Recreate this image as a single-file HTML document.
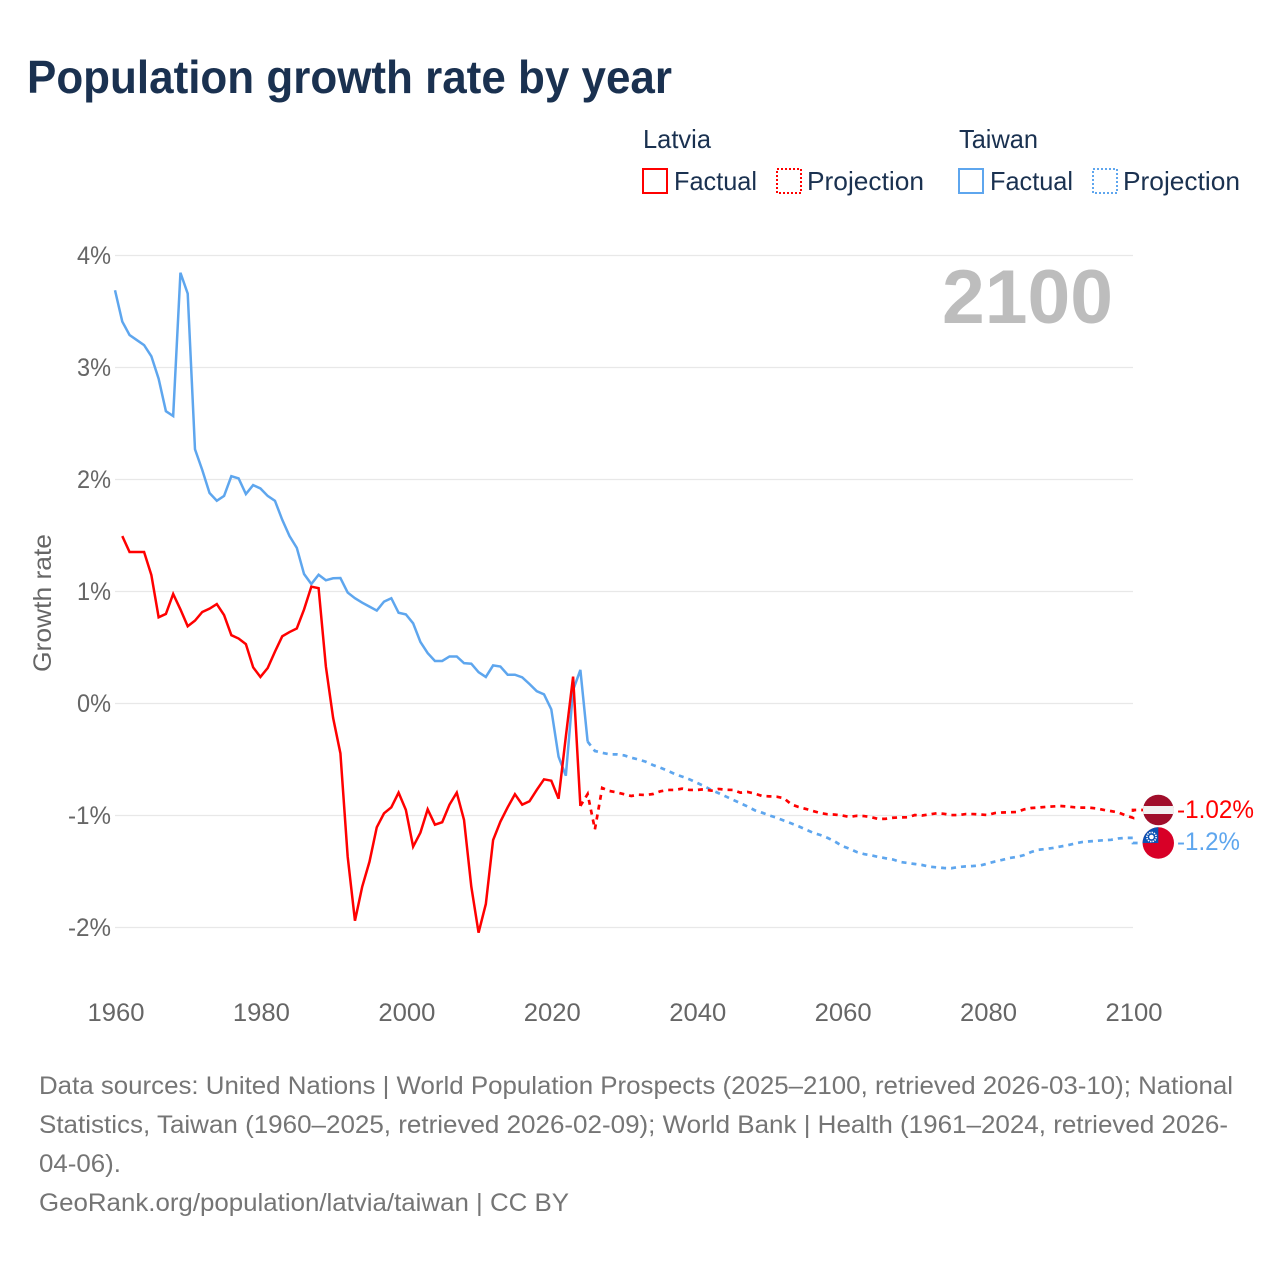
<!DOCTYPE html>
<html lang="en">
<head>
<meta charset="utf-8">
<title>Population growth rate by year</title>
<style>
html,body{margin:0;padding:0;background:#fff;width:1280px;height:1280px;overflow:hidden}
svg{display:block;font-family:"Liberation Sans",sans-serif}
</style>
</head>
<body>
<svg id="chart" xmlns="http://www.w3.org/2000/svg" width="1280" height="1280" viewBox="0 0 1280 1280">
  <rect width="1280" height="1280" fill="#ffffff"/>
  <text x="27" y="93" font-size="46" font-weight="700" fill="#1a3150" textLength="645" lengthAdjust="spacingAndGlyphs">Population growth rate by year</text>

  <g font-size="26" fill="#1a3150">
    <text x="643" y="148" textLength="68" lengthAdjust="spacingAndGlyphs">Latvia</text>
    <text x="959" y="148" textLength="79" lengthAdjust="spacingAndGlyphs">Taiwan</text>
    <rect x="643" y="169" width="24" height="24" fill="none" stroke="#ff0000" stroke-width="2"/>
    <text x="674" y="190" textLength="83" lengthAdjust="spacingAndGlyphs">Factual</text>
    <rect x="777" y="169" width="24" height="24" fill="none" stroke="#ff0000" stroke-width="2" stroke-dasharray="2 2"/>
    <text x="807" y="190" textLength="117" lengthAdjust="spacingAndGlyphs">Projection</text>
    <rect x="959" y="169" width="24" height="24" fill="none" stroke="#5ea6ee" stroke-width="2"/>
    <text x="990" y="190" textLength="83" lengthAdjust="spacingAndGlyphs">Factual</text>
    <rect x="1093" y="169" width="24" height="24" fill="none" stroke="#5ea6ee" stroke-width="2" stroke-dasharray="2 2"/>
    <text x="1123" y="190" textLength="117" lengthAdjust="spacingAndGlyphs">Projection</text>
  </g>

  <g id="grid"></g>
  <g id="y-ticks"></g>
  <g id="x-ticks"></g>
  <text transform="translate(51 603) rotate(-90)" text-anchor="middle" font-size="25" fill="#666666" textLength="138" lengthAdjust="spacingAndGlyphs">Growth rate</text>
  <text x="942" y="323" font-size="76" font-weight="700" fill="#bdbdbd" textLength="171" lengthAdjust="spacingAndGlyphs">2100</text>
  <g id="series"></g>

  <defs>
    <clipPath id="clip-latvia"><circle id="clip-latvia-c" cx="1158.3" cy="810" r="15.3"/></clipPath>
    <clipPath id="clip-taiwan"><circle id="clip-taiwan-c" cx="1158.3" cy="843" r="15.7"/></clipPath>
  </defs>
  <g id="flag-latvia" clip-path="url(#clip-latvia)">
    <rect x="1142" y="793" width="33" height="34" fill="#a00e2b"/>
    <rect x="1142" y="806" width="33" height="8" fill="#f1f1f1"/>
  </g>
  <g id="flag-taiwan" clip-path="url(#clip-taiwan)">
    <rect x="1142" y="826" width="33" height="34" fill="#d80027"/>
    <rect x="1142" y="826" width="16.3" height="17" fill="#0b52b4"/>
    <circle cx="1151.5" cy="837" r="4.6" fill="none" stroke="#ffffff" stroke-width="1.6" stroke-dasharray="1.4 1"/>
    <circle cx="1151.5" cy="837" r="2.3" fill="#ffffff"/>
  </g>
  <g id="end-labels"></g>

  <g font-size="25" fill="#757575">
    <text x="39" y="1094" textLength="1194" lengthAdjust="spacingAndGlyphs">Data sources: United Nations | World Population Prospects (2025–2100, retrieved 2026-03-10); National</text>
    <text x="39" y="1133" textLength="1189" lengthAdjust="spacingAndGlyphs">Statistics, Taiwan (1960–2025, retrieved 2026-02-09); World Bank | Health (1961–2024, retrieved 2026-</text>
    <text x="39" y="1172" textLength="82" lengthAdjust="spacingAndGlyphs">04-06).</text>
    <text x="39" y="1211" textLength="530" lengthAdjust="spacingAndGlyphs">GeoRank.org/population/latvia/taiwan | CC BY</text>
  </g>
</svg>
<script>
var yTickValues = [4, 3, 2, 1, 0, -1, -2];
var xTickYears = [1960, 1980, 2000, 2020, 2040, 2060, 2080, 2100];

var latviaFactualStart = 1961;
var latviaFactual = [1.495,1.353,1.353,1.353,1.147,0.77,0.80,0.978,0.84,0.69,0.74,0.817,0.847,0.888,0.79,0.61,0.58,0.53,0.323,0.237,0.317,0.463,0.60,0.638,0.67,0.84,1.043,1.03,0.33,-0.13,-0.445,-1.368,-1.94,-1.635,-1.412,-1.105,-0.98,-0.927,-0.796,-0.95,-1.278,-1.153,-0.945,-1.082,-1.06,-0.903,-0.796,-1.04,-1.635,-2.046,-1.79,-1.219,-1.055,-0.927,-0.81,-0.903,-0.873,-0.772,-0.677,-0.689,-0.85,-0.296,0.24,-0.915];
var latviaProjectionStart = 2024;
var latviaProjection = [-0.915,-0.808,-1.123,-0.754,-0.781,-0.793,-0.81,-0.826,-0.814,-0.817,-0.808,-0.784,-0.772,-0.772,-0.76,-0.772,-0.772,-0.766,-0.778,-0.763,-0.77,-0.772,-0.796,-0.79,-0.805,-0.826,-0.829,-0.832,-0.846,-0.90,-0.924,-0.941,-0.96,-0.978,-0.989,-0.992,-1.0,-1.0125,-1.003,-1.005,-1.015,-1.031,-1.029,-1.02,-1.017,-1.016,-0.996,-1.0,-0.99,-0.98,-0.985,-0.996,-0.996,-0.987,-0.987,-0.991,-0.996,-0.978,-0.973,-0.971,-0.969,-0.946,-0.933,-0.929,-0.923,-0.919,-0.915,-0.92,-0.927,-0.93,-0.93,-0.937,-0.95,-0.961,-0.973,-1.0,-1.02];

var taiwanFactualStart = 1960;
var taiwanFactual = [3.69,3.41,3.29,3.245,3.20,3.10,2.90,2.61,2.567,3.846,3.66,2.27,2.085,1.88,1.81,1.853,2.03,2.01,1.87,1.95,1.92,1.853,1.81,1.64,1.495,1.39,1.156,1.067,1.15,1.10,1.118,1.12,0.99,0.94,0.90,0.865,0.83,0.91,0.94,0.81,0.796,0.716,0.55,0.45,0.38,0.38,0.42,0.42,0.36,0.355,0.28,0.237,0.34,0.33,0.257,0.257,0.234,0.174,0.11,0.082,-0.052,-0.475,-0.645,0.12,0.30,-0.34];
var taiwanProjectionStart = 2025;
var taiwanProjection = [-0.34,-0.424,-0.44,-0.454,-0.454,-0.463,-0.484,-0.50,-0.52,-0.55,-0.573,-0.60,-0.63,-0.653,-0.677,-0.707,-0.737,-0.772,-0.80,-0.83,-0.86,-0.89,-0.92,-0.954,-0.975,-1.0,-1.02,-1.046,-1.07,-1.096,-1.125,-1.154,-1.174,-1.20,-1.232,-1.272,-1.296,-1.326,-1.344,-1.356,-1.37,-1.382,-1.393,-1.415,-1.424,-1.433,-1.442,-1.457,-1.463,-1.469,-1.471,-1.46,-1.454,-1.451,-1.446,-1.429,-1.411,-1.397,-1.38,-1.37,-1.354,-1.326,-1.306,-1.299,-1.29,-1.277,-1.266,-1.25,-1.237,-1.231,-1.226,-1.221,-1.217,-1.205,-1.20,-1.2];

var SVGNS = "http://www.w3.org/2000/svg";
var plotLeft = 115, plotRight = 1133, yearMin = 1960, yearMax = 2100;
var zeroY = 703.5, unitY = 112;
function xScale(year) { return plotLeft + (year - yearMin) * (plotRight - plotLeft) / (yearMax - yearMin); }
function yScale(value) { return zeroY - value * unitY; }
function make(tag, attrs, parent, text) {
  var el = document.createElementNS(SVGNS, tag);
  for (var k in attrs) el.setAttribute(k, attrs[k]);
  if (text !== undefined) el.textContent = text;
  parent.appendChild(el);
  return el;
}
function seriesPoints(start, values) {
  return values.map(function (v, i) { return [xScale(start + i), yScale(v)]; });
}
function toPath(points) {
  return points.map(function (p, i) { return (i ? "L" : "M") + p[0].toFixed(2) + " " + p[1].toFixed(2); }).join(" ");
}
var gridGroup = document.getElementById("grid");
var yTickGroup = document.getElementById("y-ticks");
var xTickGroup = document.getElementById("x-ticks");
var seriesGroup = document.getElementById("series");
var endGroup = document.getElementById("end-labels");

yTickValues.forEach(function (v) {
  var line = make("line", {x1: plotLeft, x2: plotRight, y1: yScale(v), y2: yScale(v), stroke: "#e8e8e8", "stroke-width": 1.3}, gridGroup);
  
  
  var label = make("text", {x: 111, y: yScale(v) + 8.5, "text-anchor": "end", "font-size": 25, fill: "#666666", textLength: v < 0 ? 43 : 34, lengthAdjust: "spacingAndGlyphs"}, yTickGroup, v + "%");
  
  
});
xTickYears.forEach(function (year) {
  var label = make("text", {x: xScale(year) + 1, y: 1021, "text-anchor": "middle", "font-size": 25, fill: "#666666", textLength: 57, lengthAdjust: "spacingAndGlyphs"}, xTickGroup, String(year));
  
  
});

var latviaLast = latviaProjection[latviaProjection.length - 1];
var taiwanLast = taiwanProjection[taiwanProjection.length - 1];
var endMid = (yScale(latviaLast) + yScale(taiwanLast)) / 2 - 1.3;
var latviaEndY = endMid - 16.5;
var taiwanEndY = endMid + 16.5;
var flagEdge = 1143;

function drawLine(points, color, dashed) {
  var attrs = {d: toPath(points), fill: "none", stroke: color, "stroke-width": dashed ? 2.7 : 2.5, "stroke-linejoin": "miter"};
  if (dashed) attrs["stroke-dasharray"] = "5 5";
  return make("path", attrs, seriesGroup);
}
var taiwanFactualLine = drawLine(seriesPoints(taiwanFactualStart, taiwanFactual), "#5ea6ee", false);


var taiwanProjPts = seriesPoints(taiwanProjectionStart, taiwanProjection);
taiwanProjPts.push([plotRight, taiwanEndY], [flagEdge, taiwanEndY]);
var taiwanProjectionLine = drawLine(taiwanProjPts, "#5ea6ee", true);


var latviaFactualLine = drawLine(seriesPoints(latviaFactualStart, latviaFactual), "#ff0000", false);


var latviaProjPts = seriesPoints(latviaProjectionStart, latviaProjection);
latviaProjPts.push([plotRight, latviaEndY], [flagEdge, latviaEndY]);
var latviaProjectionLine = drawLine(latviaProjPts, "#ff0000", true);



var latviaEndLabel = make("text", {x: 1177, y: latviaEndY + 8, "font-size": 25, fill: "#ff0000", textLength: 77, lengthAdjust: "spacingAndGlyphs"}, endGroup, (+latviaLast.toFixed(2)) + "%");


var taiwanEndLabel = make("text", {x: 1177, y: taiwanEndY + 7, "font-size": 25, fill: "#5ea6ee", textLength: 63, lengthAdjust: "spacingAndGlyphs"}, endGroup, (+taiwanLast.toFixed(2)) + "%");


</script>
</body>
</html>
